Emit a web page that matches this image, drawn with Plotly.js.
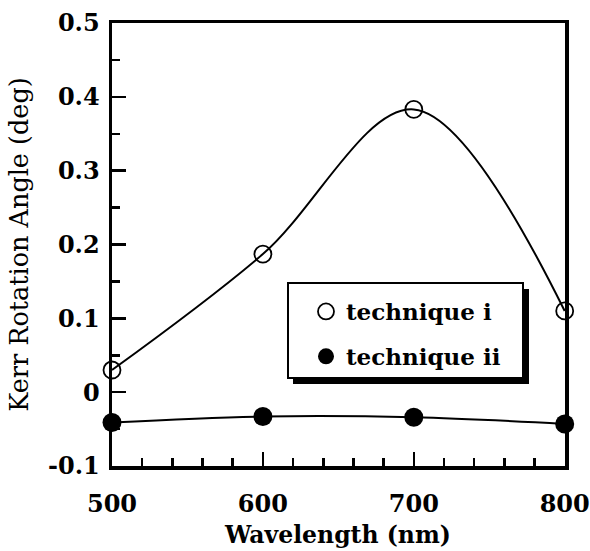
<!DOCTYPE html>
<html>
<head>
<meta charset="utf-8">
<script src="https://cdn.plot.ly/plotly-3.0.1.min.js"></script>
<style>html,body{margin:0;padding:0;background:#fff;}#chart{width:590px;height:551px;}</style>
</head>
<body>
<div id="chart"></div>
<script>
const wavelength = [500, 600, 700, 800];
const techniqueI = [0.03, 0.187, 0.383, 0.11];
const techniqueII = [-0.041, -0.033, -0.034, -0.043];
const yTickVals = [-0.1, 0, 0.1, 0.2, 0.3, 0.4, 0.5];
const yTickText = ["-0.1", "0", "0.1", "0.2", "0.3", "0.4", "0.5"];
const xTickVals = [500, 600, 700, 800];
const seriesNames = ["technique i", "technique ii"];
const xTitle = 'Wavelength (nm)';
const yTitle = 'Kerr Rotation Angle (deg)';

const FONT = "DejaVu Serif";
const L = 112, R = 25, T = 23, B = 85, W = 590, H = 551;
const pw = W - L - R, ph = H - T - B;
const px = v => (v - L) / pw;
const py = v => (H - B - v) / ph;

const traces = [
  {x: wavelength, y: techniqueI, mode: 'lines', line: {shape: 'spline', color: '#000', width: 2}, showlegend: false, hoverinfo: 'skip', cliponaxis: false},
  {x: wavelength, y: techniqueII, mode: 'lines', line: {shape: 'spline', color: '#000', width: 2}, showlegend: false, hoverinfo: 'skip', cliponaxis: false},
  {x: wavelength, y: techniqueI, mode: 'markers', name: seriesNames[0], legendgroup: 'a',
   marker: {symbol: 'circle-open', size: 17, color: '#000', line: {width: 1.8, color: '#000'}}, cliponaxis: false},
  {x: wavelength, y: techniqueII, mode: 'markers', name: seriesNames[1], legendgroup: 'b',
   marker: {symbol: 'circle', size: 19, color: '#000'}, cliponaxis: false}
];

const layout = {
  width: W, height: H,
  margin: {l: L, r: R, t: T, b: B},
  paper_bgcolor: '#fff', plot_bgcolor: '#fff',
  font: {family: FONT, color: '#000', size: 22},
  showlegend: true,
  legend: {
    x: px(306), y: py(290), xanchor: 'left', yanchor: 'top',
    bgcolor: 'rgba(0,0,0,0)', borderwidth: 0,
    font: {family: FONT, size: 23, color: '#000', weight: 'bold'},
    traceorder: 'grouped', tracegroupgap: 12
  },
  xaxis: {
    range: [500, 800.2], tickvals: xTickVals, ticktext: xTickVals.map(String),
    ticks: 'inside', ticklen: 14, tickwidth: 2.5, tickcolor: '#000',
    minor: {dtick: 20, ticks: 'inside', ticklen: 8, tickwidth: 2.5, tickcolor: '#000'},
    showline: true, linewidth: 3.5, linecolor: '#000', mirror: true,
    showgrid: false, zeroline: false,
    tickfont: {family: FONT, size: 24, weight: 'bold'},
    ticklabelstandoff: 14
  },
  yaxis: {
    range: [-0.1, 0.5], tickvals: yTickVals, ticktext: yTickText,
    ticks: 'inside', ticklen: 14, tickwidth: 2.5, tickcolor: '#000',
    minor: {dtick: 0.05, ticks: 'inside', ticklen: 8, tickwidth: 2.5, tickcolor: '#000'},
    showline: true, linewidth: 3.5, linecolor: '#000', mirror: true,
    showgrid: false, zeroline: false,
    tickfont: {family: FONT, size: 24, weight: 'bold'},
    ticklabelstandoff: 4,
    title: {text: yTitle, font: {family: FONT, size: 25.5, weight: 'normal'}, standoff: 13}
  },
  annotations: [
    {text: xTitle, xref: 'paper', yref: 'paper', x: px(337), y: py(535), xanchor: 'center', yanchor: 'middle',
     showarrow: false, font: {family: FONT, size: 23.5, weight: 'bold', color: '#000'}}
  ],
  shapes: [
    {type: 'rect', xref: 'paper', yref: 'paper', layer: 'above',
     x0: px(293), x1: px(529), y0: py(289), y1: py(384),
     fillcolor: '#000', line: {width: 0}},
    {type: 'rect', xref: 'paper', yref: 'paper', layer: 'above',
     x0: px(288), x1: px(523), y0: py(283), y1: py(378),
     fillcolor: '#fff', line: {width: 2, color: '#000'}}
  ]
};

Plotly.newPlot('chart', traces, layout, {displayModeBar: false, staticPlot: true});
</script>
</body>
</html>
